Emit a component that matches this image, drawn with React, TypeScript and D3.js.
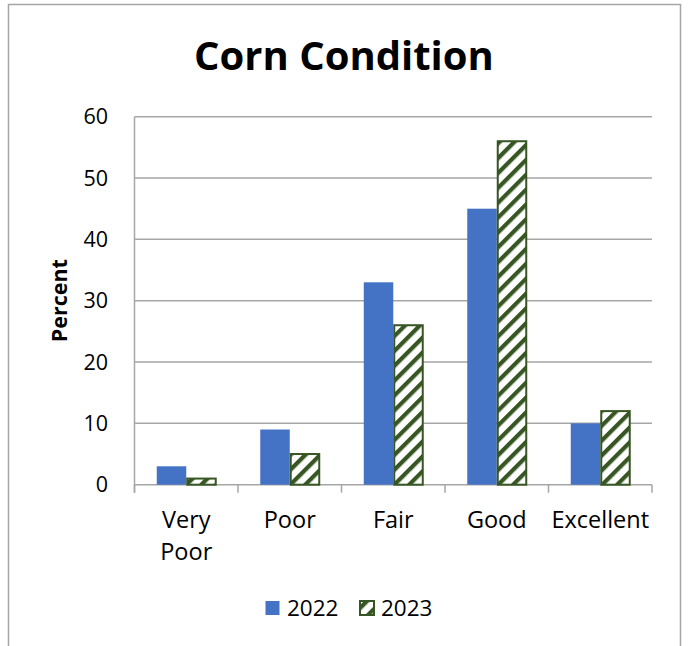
import React from "react";
import * as d3 from "d3";

const categories = ["Very Poor", "Poor", "Fair", "Good", "Excellent"];
const categoryLines = [["Very", "Poor"], ["Poor"], ["Fair"], ["Good"], ["Excellent"]];
const seriesNames = ["2022", "2023"];
const values2022 = [3, 9, 33, 45, 10];
const values2023 = [1, 5, 26, 56, 12];
const yTicks = [0, 10, 20, 30, 40, 50, 60];

const W = 688;
const H = 646;
const FONT = "'Open Sans', 'DejaVu Sans', sans-serif";
const BLUE = "#4472C4";
const GREEN = "#375623";
const GRID = "#a6a6a6";

export default function App() {
  const left = 134.5;
  const right = 652;
  const top = 116.7;
  const bottom = 484.7;

  const x = d3.scaleBand<string>().domain(categories).range([left, right]).padding(0);
  const bw = x.bandwidth();
  const inner = d3
    .scaleBand<string>()
    .domain(seriesNames)
    .range([bw * 0.215, bw * 0.785])
    .padding(0);
  const y = d3.scaleLinear().domain([0, 60]).range([bottom, top]);

  const series = [
    { name: "2022", values: values2022 },
    { name: "2023", values: values2023 },
  ];

  const boundaries = [...categories.map((c) => x(c) as number), right];

  return (
    <svg
      width={W}
      height={H}
      style={{ position: "absolute", left: 0, top: 0, background: "#fff" }}
      fontFamily={FONT}
    >
      <defs>
        <pattern
          id="hatch"
          patternUnits="userSpaceOnUse"
          width={10.5}
          height={10.5}
          patternTransform="rotate(45)"
        >
          <rect width={10.5} height={10.5} fill="#fff" />
          <rect x={0} y={0} width={4.2} height={10.5} fill={GREEN} />
        </pattern>
      </defs>
      <rect x={0} y={0} width={W} height={H} fill="#fff" />
      <rect x={8.5} y={4.5} width={672} height={700} fill="none" stroke={GRID} strokeWidth={1.5} />

      <text
        x={344}
        y={70}
        textAnchor="middle"
        fontSize={40}
        fontWeight="bold"
        fill="#000"
      >
        Corn Condition
      </text>

      {yTicks.map((t) => (
        <g key={t}>
          <line x1={left} x2={right} y1={y(t)} y2={y(t)} stroke={GRID} strokeWidth={1.5} />
          <text x={108} y={y(t)} dy="0.35em" textAnchor="end" fontSize={21.5} fill="#000">
            {t}
          </text>
        </g>
      ))}

      <line x1={left} x2={left} y1={top} y2={bottom + 8} stroke={GRID} strokeWidth={1.5} />
      {boundaries.map((b, i) => (
        <line key={i} x1={b} x2={b} y1={bottom} y2={bottom + 8} stroke={GRID} strokeWidth={1.5} />
      ))}

      {series.map((s, si) =>
        s.values.map((v, i) => {
          const bx = (x(categories[i]) as number) + (inner(s.name) as number);
          const by = y(v);
          const h = y(0) - y(v);
          return si === 0 ? (
            <rect key={`${si}-${i}`} x={bx} y={by} width={inner.bandwidth()} height={h} fill={BLUE} />
          ) : (
            <rect
              key={`${si}-${i}`}
              x={bx + 1}
              y={by}
              width={inner.bandwidth() - 1}
              height={h}
              fill="url(#hatch)"
              stroke={GREEN}
              strokeWidth={2}
            />
          );
        })
      )}

      {categories.map((c, i) => (
        <text
          key={c}
          x={(x(c) as number) + bw / 2}
          y={528}
          textAnchor="middle"
          fontSize={23.5}
          fill="#000"
        >
          {categoryLines[i].map((ln, li) => (
            <tspan key={li} x={(x(c) as number) + bw / 2} dy={li === 0 ? 0 : 32}>
              {ln}
            </tspan>
          ))}
        </text>
      ))}

      <text
        transform="translate(67,300.7) rotate(-90)"
        textAnchor="middle"
        fontSize={21.5}
        fontWeight="bold"
        fill="#000"
      >
        Percent
      </text>

      <g>
        <rect x={265.5} y={601} width={14} height={14} fill={BLUE} />
        <text x={287} y={616} fontSize={22.5} fill="#000">
          {seriesNames[0]}
        </text>
        <rect x={360} y={601} width={14} height={14} fill="url(#hatch)" stroke={GREEN} strokeWidth={2} />
        <text x={381} y={616} fontSize={22.5} fill="#000">
          {seriesNames[1]}
        </text>
      </g>
    </svg>
  );
}
